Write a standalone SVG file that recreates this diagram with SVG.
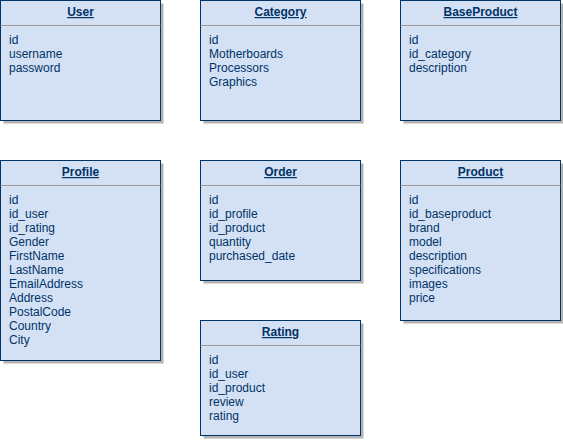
<svg xmlns="http://www.w3.org/2000/svg" width="563" height="440" viewBox="0 0 563 440">
<defs>
<style>
.sh{fill:#b3b3b3;stroke:none}
.bx{fill:#d4e1f5;stroke:#003366;stroke-width:1}
.dv{stroke:#999999;stroke-width:1}
.t{font-family:"Liberation Sans",Arial,sans-serif;font-size:12px;fill:#003366;font-weight:bold;text-decoration:underline;text-anchor:middle}
.f{font-family:"Liberation Sans",Arial,sans-serif;font-size:12px;fill:#003366}
</style>
</defs>
<rect width="563" height="440" fill="#ffffff"/>
<g id="connectors"></g>
<g id="User">
<rect class="sh" x="3.5" y="3.5" width="160" height="120"/>
<rect class="bx" x="0.5" y="0.5" width="160" height="120"/>
<line class="dv" x1="0.5" y1="25.5" x2="160.5" y2="25.5"/>
<text class="t" x="80.5" y="16">User</text>
<text class="f" x="9" y="44">id</text>
<text class="f" x="9" y="58">username</text>
<text class="f" x="9" y="72">password</text>
</g>
<g id="Category">
<rect class="sh" x="203.5" y="3.5" width="160" height="120"/>
<rect class="bx" x="200.5" y="0.5" width="160" height="120"/>
<line class="dv" x1="200.5" y1="25.5" x2="360.5" y2="25.5"/>
<text class="t" x="280.5" y="16">Category</text>
<text class="f" x="209" y="44">id</text>
<text class="f" x="209" y="58">Motherboards</text>
<text class="f" x="209" y="72">Processors</text>
<text class="f" x="209" y="86">Graphics</text>
</g>
<g id="BaseProduct">
<rect class="sh" x="403.5" y="3.5" width="160" height="120"/>
<rect class="bx" x="400.5" y="0.5" width="160" height="120"/>
<line class="dv" x1="400.5" y1="25.5" x2="560.5" y2="25.5"/>
<text class="t" x="480.5" y="16">BaseProduct</text>
<text class="f" x="409" y="44">id</text>
<text class="f" x="409" y="58">id_category</text>
<text class="f" x="409" y="72">description</text>
</g>
<g id="Profile">
<rect class="sh" x="3.5" y="163.5" width="160" height="200"/>
<rect class="bx" x="0.5" y="160.5" width="160" height="200"/>
<line class="dv" x1="0.5" y1="185.5" x2="160.5" y2="185.5"/>
<text class="t" x="80.5" y="176">Profile</text>
<text class="f" x="9" y="204">id</text>
<text class="f" x="9" y="218">id_user</text>
<text class="f" x="9" y="232">id_rating</text>
<text class="f" x="9" y="246">Gender</text>
<text class="f" x="9" y="260">FirstName</text>
<text class="f" x="9" y="274">LastName</text>
<text class="f" x="9" y="288">EmailAddress</text>
<text class="f" x="9" y="302">Address</text>
<text class="f" x="9" y="316">PostalCode</text>
<text class="f" x="9" y="330">Country</text>
<text class="f" x="9" y="344">City</text>
</g>
<g id="Order">
<rect class="sh" x="203.5" y="163.5" width="160" height="120"/>
<rect class="bx" x="200.5" y="160.5" width="160" height="120"/>
<line class="dv" x1="200.5" y1="185.5" x2="360.5" y2="185.5"/>
<text class="t" x="280.5" y="176">Order</text>
<text class="f" x="209" y="204">id</text>
<text class="f" x="209" y="218">id_profile</text>
<text class="f" x="209" y="232">id_product</text>
<text class="f" x="209" y="246">quantity</text>
<text class="f" x="209" y="260">purchased_date</text>
</g>
<g id="Product">
<rect class="sh" x="403.5" y="163.5" width="160" height="160"/>
<rect class="bx" x="400.5" y="160.5" width="160" height="160"/>
<line class="dv" x1="400.5" y1="185.5" x2="560.5" y2="185.5"/>
<text class="t" x="480.5" y="176">Product</text>
<text class="f" x="409" y="204">id</text>
<text class="f" x="409" y="218">id_baseproduct</text>
<text class="f" x="409" y="232">brand</text>
<text class="f" x="409" y="246">model</text>
<text class="f" x="409" y="260">description</text>
<text class="f" x="409" y="274">specifications</text>
<text class="f" x="409" y="288">images</text>
<text class="f" x="409" y="302">price</text>
</g>
<g id="Rating">
<rect class="sh" x="203.5" y="323.5" width="160" height="115"/>
<rect class="bx" x="200.5" y="320.5" width="160" height="115"/>
<line class="dv" x1="200.5" y1="345.5" x2="360.5" y2="345.5"/>
<text class="t" x="280.5" y="336">Rating</text>
<text class="f" x="209" y="364">id</text>
<text class="f" x="209" y="378">id_user</text>
<text class="f" x="209" y="392">id_product</text>
<text class="f" x="209" y="406">review</text>
<text class="f" x="209" y="420">rating</text>
</g>
</svg>
